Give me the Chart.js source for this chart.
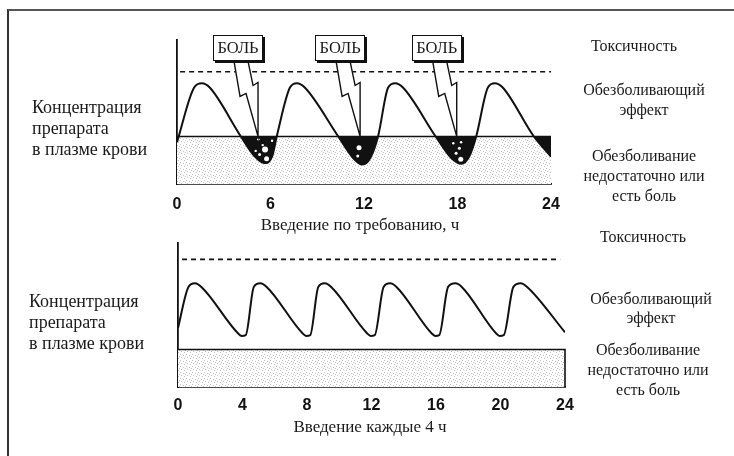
<!DOCTYPE html>
<html>
<head>
<meta charset="utf-8">
<script src="https://cdn.jsdelivr.net/npm/chart.js@4.4.1/dist/chart.umd.min.js"></script>
<style>
    body { margin: 0; background: #fff; }
    #page { position: relative; width: 734px; height: 456px; overflow: hidden; font-family: 'Liberation Serif', 'Times New Roman', serif; color: #1a1a1a; }
    .frame { position: absolute; left: 7px; top: 9px; width: 760px; height: 480px; border-left: 2px solid #333; border-top: 2px solid #555; }
    .txt { position: absolute; white-space: nowrap; }
    .left { font-size: 18px; line-height: 21px; }
    .right { font-size: 16px; line-height: 20px; text-align: center; width: 180px; }
    .axt { font-size: 17px; line-height: 20px; text-align: center; width: 300px; }
    .pain { position: absolute; top: 35px; width: 48px; height: 24px; border: 1.5px solid #111; background: #fff; box-shadow: 2px 2px 0 #111; font-size: 16.5px; line-height: 24px; text-align: center; }
    canvas { position: absolute; left: 0; }
</style>
</head>
<body>
<div id="page">
    <div class="frame"></div>
    <canvas id="topChart" width="734" height="240" style="top:0"></canvas>
    <canvas id="botChart" width="734" height="216" style="top:240px"></canvas>

    <div class="txt left" style="left:32px; top:97px">Концентрация<br>препарата<br>в плазме крови</div>
    <div class="txt left" style="left:29px; top:291px">Концентрация<br>препарата<br>в плазме крови</div>

    <div class="txt right" style="left:544px; top:36px">Токсичность</div>
    <div class="txt right" style="left:554px; top:80px; line-height:19.5px">Обезболивающий<br>эффект</div>
    <div class="txt right" style="left:554px; top:146px">Обезболивание<br>недостаточно или<br>есть боль</div>

    <div class="txt right" style="left:553px; top:227px">Токсичность</div>
    <div class="txt right" style="left:561px; top:290px; line-height:18.5px">Обезболивающий<br>эффект</div>
    <div class="txt right" style="left:558px; top:340px">Обезболивание<br>недостаточно или<br>есть боль</div>

    <div class="txt axt" style="left:210px; top:215px">Введение по требованию, ч</div>
    <div class="txt axt" style="left:220px; top:417px">Введение каждые 4 ч</div>
</div>
<script>
// Top panel: dosing on demand (hours, relative concentration 0..100)
const topTimes = [0, 1.1, 1.6, 2.1, 4.1, 5.0, 5.6, 6.1, 6.4, 7.25, 7.7, 8.2, 10.35, 11.3, 11.9, 12.4, 12.9, 13.55, 14.0, 14.5, 16.6, 17.6, 18.25, 18.75, 19.2, 19.95, 20.4, 20.9, 22.9, 24];
const topConc  = [29, 67, 70, 67, 33, 19, 14.5, 19, 33, 67, 70, 67, 33, 18, 13.5, 18, 33, 67, 70, 67, 33, 18, 14, 19, 33, 67, 70, 67, 33, 19];
const topThreshold = 33;
const topToxic = 78;
const topToxicFrom = 0.2;
const painTimes = [5.2, 11.75, 17.95];
const painLabel = 'БОЛЬ';

// white specks inside the pain troughs
const dotTimes = [5.22, 5.65, 5.75, 5.3, 6.1, 5.5, 5.05, 11.68, 11.6, 17.73, 18.23, 18.12, 17.91, 18.21];
const dotConc  = [31, 24, 17.5, 20.5, 30, 27, 23, 25.2, 19.4, 28.3, 29, 24.8, 21.3, 17.2];
const dotSizes = [1.2, 3, 2.5, 1.5, 1.2, 1.2, 1.2, 2.5, 1.5, 1.2, 1.2, 1.5, 1.5, 2.5];

// Bottom panel: dosing every 4 h
const botTimes = [0, 0.65, 1.05, 1.45, 3.75, 3.95, 4.2, 4.7, 5.1, 5.5, 7.75, 7.95, 8.2, 8.7, 9.1, 9.5, 11.75, 11.95, 12.2, 12.75, 13.15, 13.55, 15.75, 15.95, 16.2, 16.75, 17.2, 17.6, 19.75, 19.95, 20.2, 20.8, 21.25, 21.65, 24];
const botConc  = [41, 69.5, 72, 69.5, 37, 35.5, 36, 69.5, 72, 69.5, 37, 35.5, 36, 69.5, 72, 69.5, 37, 35.5, 36, 69.5, 72, 69.5, 37, 35.5, 36, 69.5, 72, 69.5, 37, 35.5, 36, 69.5, 72, 69.5, 38];
const botThreshold = 26;
const botToxic = 88.6;
const botToxicFrom = 0.25;
const botToxicTo = 23.7;

const INK = '#111';

function stipple() {
    const c = document.createElement('canvas');
    c.width = 6; c.height = 6;
    const g = c.getContext('2d');
    g.fillStyle = '#fff';
    g.fillRect(0, 0, 6, 6);
    g.fillStyle = '#c2c2c2';
    [[0, 0], [3, 1], [1, 3], [4, 4], [5, 2]].forEach(([a, b]) => g.fillRect(a, b, 1, 1));
    return g.createPattern(c, 'repeat');
}

function points(xs, ys) {
    return xs.map((x, i) => ({ x: x, y: ys[i] }));
}

function scales(step, xHeight, pad) {
    return {
        x: {
            type: 'linear', min: 0, max: 24,
            afterFit: s => { s.height = xHeight; },
            grid: { display: false, drawTicks: false },
            border: { display: true, color: INK, width: 1.8 },
            ticks: {
                stepSize: step, padding: pad, maxRotation: 0, autoSkip: false, color: INK,
                font: { family: 'Liberation Sans', weight: 'bold', size: 16 }
            }
        },
        y: {
            min: 0, max: 100,
            afterFit: s => { s.width = 0; },
            grid: { display: false, drawTicks: false },
            border: { display: true, color: INK, width: 1.8 },
            ticks: { display: false }
        }
    };
}

// lightning bolt outline, pixel offsets from its tip
const boltShape = [[-24, -75], [-10, -75], [-5, -51], [0, -54], [0, 0], [-12, -43], [-18, -40]];

const boltPlugin = {
    id: 'bolts',
    afterDatasetsDraw(chart) {
        const { ctx, scales: { x, y } } = chart;
        const ty = y.getPixelForValue(topThreshold);
        ctx.save();
        painTimes.forEach(t => {
            const tx = x.getPixelForValue(t);
            ctx.beginPath();
            boltShape.forEach(([dx, dy], i) => i ? ctx.lineTo(tx + dx, ty + dy) : ctx.moveTo(tx + dx, ty + dy));
            ctx.closePath();
            ctx.fillStyle = '#fff';
            ctx.fill();
            ctx.strokeStyle = INK;
            ctx.lineWidth = 1.4;
            ctx.stroke();
        });
        ctx.restore();
    }
};

const common = {
    responsive: false,
    animation: false,
    events: [],
    plugins: { legend: { display: false }, tooltip: { enabled: false } },
    elements: { point: { radius: 0 } }
};

const topChart = new Chart(document.getElementById('topChart'), {
    type: 'line',
    data: {
        datasets: [
            {
                data: points(dotTimes, dotConc),
                showLine: false,
                pointRadius: dotSizes,
                pointBackgroundColor: '#fff',
                pointBorderWidth: 0
            },
            {
                data: points(topTimes, topConc),
                borderColor: INK,
                borderWidth: 2,
                cubicInterpolationMode: 'monotone',
                fill: { target: { value: topThreshold }, above: 'rgba(0,0,0,0)', below: INK }
            },
            {
                data: [{ x: topToxicFrom, y: topToxic }, { x: 24, y: topToxic }],
                borderColor: INK,
                borderWidth: 1.6,
                borderDash: [5, 4],
                fill: false
            },
            {
                data: [{ x: 0, y: topThreshold }, { x: 24, y: topThreshold }],
                borderColor: INK,
                borderWidth: 1.6,
                backgroundColor: stipple(),
                fill: 'origin'
            }
        ]
    },
    options: Object.assign({}, common, {
        layout: { padding: { left: 177, right: 183, top: 40, bottom: 0 } },
        scales: scales(6, 56, 11)
    }),
    plugins: [boltPlugin]
});

// pain boxes above the bolts
painTimes.forEach(t => {
    const div = document.createElement('div');
    div.className = 'pain';
    div.textContent = painLabel;
    div.style.left = (topChart.scales.x.getPixelForValue(t) - 45) + 'px';
    document.getElementById('page').appendChild(div);
});

new Chart(document.getElementById('botChart'), {
    type: 'line',
    data: {
        datasets: [
            {
                data: points(botTimes, botConc),
                borderColor: INK,
                borderWidth: 2,
                cubicInterpolationMode: 'monotone',
                fill: false
            },
            {
                data: [{ x: botToxicFrom, y: botToxic }, { x: botToxicTo, y: botToxic }],
                borderColor: INK,
                borderWidth: 1.6,
                borderDash: [5, 4],
                fill: false
            },
            {
                data: [{ x: 0, y: botThreshold }, { x: 24, y: botThreshold }, { x: 24, y: 0 }],
                borderColor: INK,
                borderWidth: 1.6,
                backgroundColor: stipple(),
                fill: 'origin',
                clip: 3
            }
        ]
    },
    options: Object.assign({}, common, {
        layout: { padding: { left: 178, right: 169, top: 3, bottom: 0 } },
        scales: scales(4, 69, 9)
    })
});
</script>
</body>
</html>
